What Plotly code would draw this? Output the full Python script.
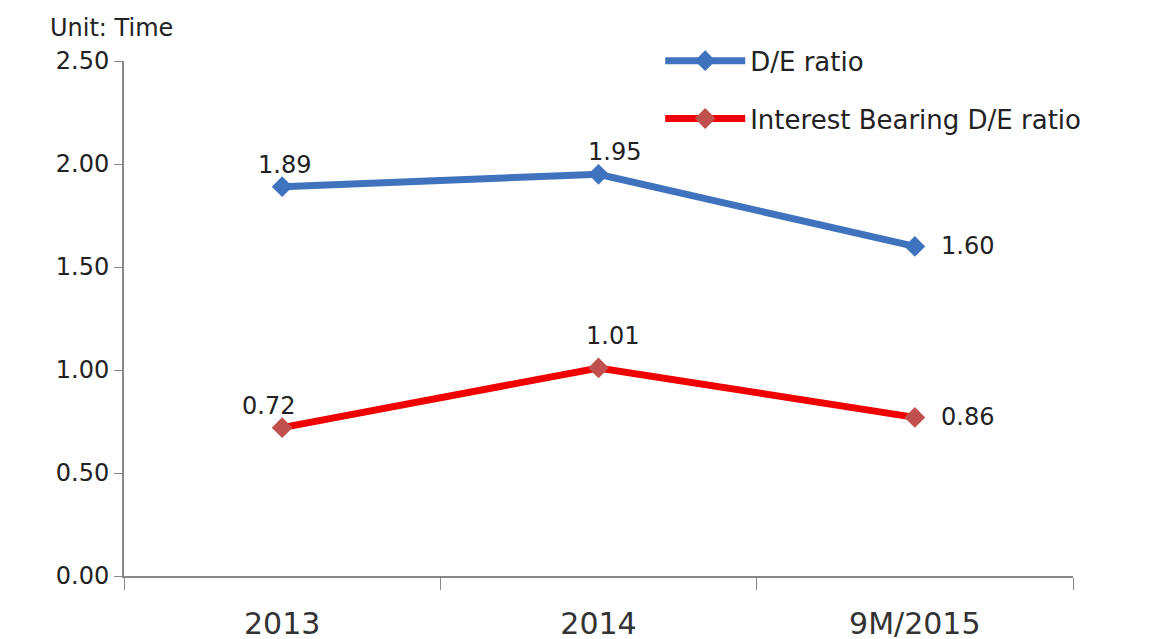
import plotly.graph_objects as go

categories = ["2013", "2014", "9M/2015"]
de_ratio = [1.89, 1.95, 1.60]
de_labels = ["1.89", "1.95", "1.60"]
ib_ratio = [0.72, 1.01, 0.77]
ib_labels = ["0.72", "1.01", "0.86"]
y_ticks = [0, 0.5, 1.0, 1.5, 2.0, 2.5]
y_tick_labels = ["0.00", "0.50", "1.00", "1.50", "2.00", "2.50"]

font_main = "DejaVu Sans"
blue = "#3F73BE"
red = "#F00000"

fig = go.Figure()
fig.add_trace(go.Scatter(
    x=categories, y=de_ratio, name="D/E ratio", mode="lines+markers",
    legendgroup="a",
    line=dict(color=blue, width=7),
    marker=dict(symbol="diamond", size=16, color=blue),
))
fig.add_trace(go.Scatter(
    x=categories, y=ib_ratio, name="Interest Bearing D/E ratio", mode="lines+markers",
    legendgroup="b",
    line=dict(color=red, width=7),
    marker=dict(symbol="diamond", size=16, color="#C0504D"),
))

# label offsets (pixels) per point
de_shift = [(2, 22, "center"), (16, 22, "center"), (24, 0, "left")]
ib_shift = [(-14, 22, "center"), (14, 32, "center"), (24, 0, "left")]

annotations = []
for i, (val, lab, (dx, dy, anc)) in enumerate(zip(de_ratio, de_labels, de_shift)):
    annotations.append(dict(x=i, y=val, xref="x", yref="y", text=lab, showarrow=False,
                            xanchor=anc, yanchor="middle", xshift=dx, yshift=dy,
                            font=dict(family=font_main, size=24, color="#222")))
for i, (val, lab, (dx, dy, anc)) in enumerate(zip(ib_ratio, ib_labels, ib_shift)):
    annotations.append(dict(x=i, y=val, xref="x", yref="y", text=lab, showarrow=False,
                            xanchor=anc, yanchor="middle", xshift=dx, yshift=dy,
                            font=dict(family=font_main, size=24, color="#222")))
annotations.append(dict(text="Unit: Time", xref="paper", yref="paper", x=-0.080, y=1.064,
                        xanchor="left", yanchor="middle", showarrow=False,
                        font=dict(family=font_main, size=24, color="#222")))

fig.update_layout(
    width=1154, height=639,
    margin=dict(l=116, r=89, t=53, b=71),
    paper_bgcolor="white", plot_bgcolor="white",
    font=dict(family=font_main, color="#222"),
    showlegend=True,
    legend=dict(x=0.565, y=1.046, xanchor="left", yanchor="top",
                font=dict(family=font_main, size=26, color="#222"),
                itemwidth=80, traceorder="grouped", tracegroupgap=21,
                bgcolor="rgba(0,0,0,0)"),
    annotations=annotations,
)
fig.update_xaxes(
    type="category", range=[-0.5, 2.5], tickson="boundaries",
    ticks="outside", ticklen=12, tickcolor="#888", showline=True, linecolor="#888", linewidth=2,
    showgrid=False, ticklabelstandoff=20, automargin=False,
    tickfont=dict(family=font_main, size=30, color="#333"),
)
fig.update_yaxes(
    range=[0, 2.5], tickvals=y_ticks, ticktext=y_tick_labels, automargin=False,
    ticks="outside", ticklen=8, tickcolor="#888", showline=True, linecolor="#888", linewidth=2,
    showgrid=False, zeroline=False, tickfont=dict(family=font_main, size=24, color="#222"),
)

fig.write_html("out.html")
